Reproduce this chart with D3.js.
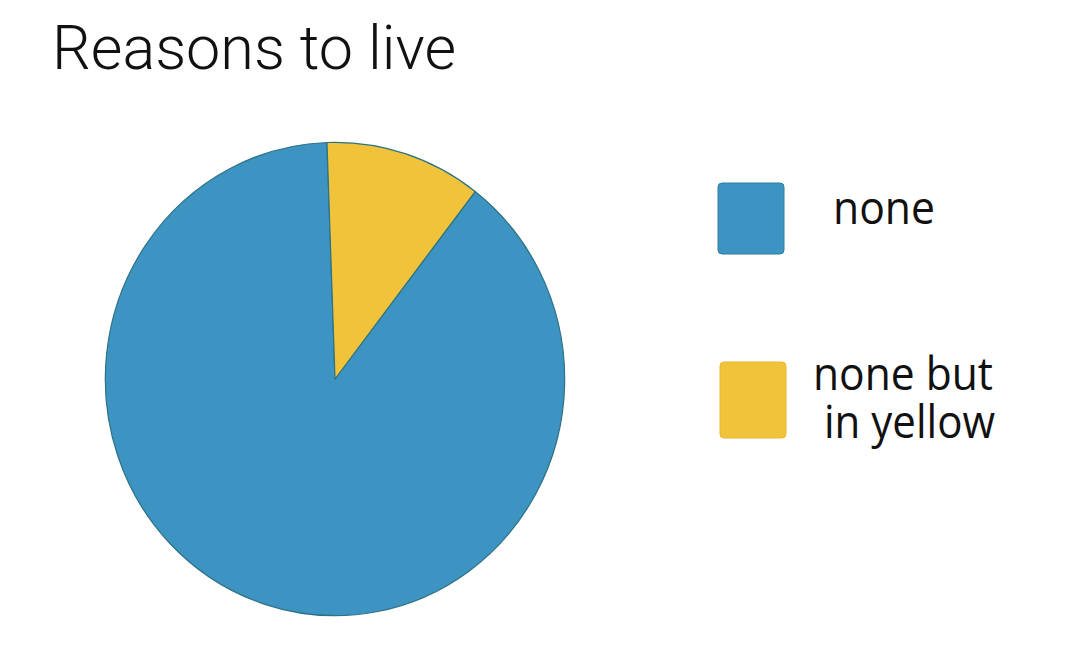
<!DOCTYPE html>
<html>
<head>
<meta charset="utf-8">
<script src="https://cdn.jsdelivr.net/npm/d3@7"></script>
<style>
  html, body { margin: 0; padding: 0; background: #ffffff; }
  svg { display: block; }
</style>
</head>
<body>
<script>
// ---- data ----
const title = "Reasons to live";
const categories = ["none", "none but in yellow"];
const values = [89, 11];
const legendLines = [["none"], ["none but", "in yellow"]];
const colors = ["#3d93c1", "#f1c33b"];

// ---- layout ----
const W = 1080, H = 664;
const svg = d3.select("body").append("svg").attr("width", W).attr("height", H);
svg.append("rect").attr("width", W).attr("height", H).attr("fill", "#ffffff");

// title
svg.append("text")
  .attr("x", 52).attr("y", 69)
  .attr("font-family", "Roboto, 'Open Sans', sans-serif")
  .attr("font-weight", 300)
  .attr("font-size", 62)
  .attr("fill", "#111")
  .attr("textLength", 404)
  .attr("lengthAdjust", "spacingAndGlyphs")
  .text(title);

// pie
const cx = 335, cy = 379, r = 232;
const startA = 37.6 * Math.PI / 180;
const pie = d3.pie().sort(null).value(d => d).startAngle(startA).endAngle(startA + 2 * Math.PI);
const arc = d3.arc().innerRadius(0).outerRadius(r);
const g = svg.append("g").attr("transform", `translate(${cx},${cy}) scale(0.99,1.02)`);
g.selectAll("path").data(pie(values)).join("path")
  .attr("d", arc)
  .attr("fill", (d, i) => colors[i])
  .attr("stroke", "#2c7283")
  .attr("stroke-width", 1.2)
  .attr("stroke-linejoin", "round");

// legend
const legendY = [183, 362];
const leg = svg.append("g");
categories.forEach((c, i) => {
  leg.append("rect")
    .attr("x", 718 + i * 2).attr("y", legendY[i])
    .attr("width", 66).attr("height", i === 0 ? 71 : 76)
    .attr("rx", 4)
    .attr("fill", colors[i])
    .attr("stroke", i === 0 ? "#2f7f9c" : "#e6b92f")
    .attr("stroke-width", 1);
});
const textSpecs = [
  [{ x: 833, y: 224, w: 102 }],
  [{ x: 813, y: 390, w: 180 }, { x: 824, y: 438, w: 171 }]
];
legendLines.forEach((lines, i) => {
  const txt = leg.append("text")
    .attr("font-family", "'Open Sans', 'Noto Sans', sans-serif")
    .attr("font-size", 45)
    .attr("fill", "#111");
  lines.forEach((ln, j) => {
    const s = textSpecs[i][j];
    txt.append("tspan")
      .attr("x", s.x).attr("y", s.y)
      .attr("textLength", s.w)
      .attr("lengthAdjust", "spacingAndGlyphs")
      .text(ln);
  });
});
</script>
</body>
</html>
